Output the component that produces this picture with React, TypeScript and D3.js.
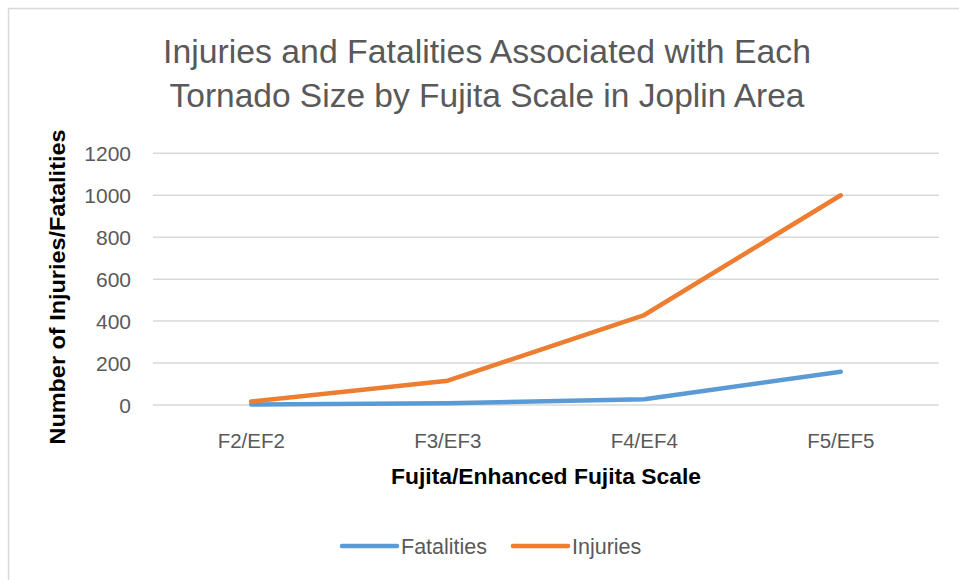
import React from "react";
import * as d3 from "d3";

const categories = ["F2/EF2", "F3/EF3", "F4/EF4", "F5/EF5"];
const fatalities = [2, 8, 27, 159];
const injuries = [17, 116, 429, 1000];
const yTicks = [0, 200, 400, 600, 800, 1000, 1200];
const seriesNames = ["Fatalities", "Injuries"];
const seriesColors = ["#5b9bd5", "#ed7d31"];

const W = 959;
const H = 580;
const FONT = "'Liberation Sans', Arial, sans-serif";

export default function App() {
  const x = d3.scaleBand<string>().domain(categories).range([153, 939]);
  const y = d3.scaleLinear().domain([0, 1200]).range([405, 153.3]);
  const line = d3
    .line<number>()
    .x((_, i) => (x(categories[i]) as number) + x.bandwidth() / 2)
    .y((d) => y(d));
  const series = [fatalities, injuries];

  return (
    <svg width={W} height={H} style={{ position: "absolute", left: 0, top: 0 }}>
      <rect x={0} y={0} width={W} height={H} fill="#fff" />
      <rect x={8.5} y={8.5} width={W + 10} height={H + 10} fill="#fff" stroke="#d9d9d9" strokeWidth={1.5} />
      <text x={487} y={63} textAnchor="middle" fontFamily={FONT} fontSize={33.5} fill="#595959" textLength={648} lengthAdjust="spacingAndGlyphs">
        Injuries and Fatalities Associated with Each
      </text>
      <text x={487} y={107} textAnchor="middle" fontFamily={FONT} fontSize={33.5} fill="#595959" textLength={635} lengthAdjust="spacingAndGlyphs">
        Tornado Size by Fujita Scale in Joplin Area
      </text>
      {yTicks.map((t) => (
        <g key={t}>
          <line x1={153} x2={939} y1={y(t)} y2={y(t)} stroke="#d9d9d9" strokeWidth={1.5} />
          <text x={131} y={y(t) + 7.5} textAnchor="end" fontFamily={FONT} fontSize={21} fill="#595959">
            {t}
          </text>
        </g>
      ))}
      {categories.map((c) => (
        <text key={c} x={(x(c) as number) + x.bandwidth() / 2} y={448} textAnchor="middle" fontFamily={FONT} fontSize={20.5} fill="#595959">
          {c}
        </text>
      ))}
      {series.map((s, i) => (
        <path key={i} d={line(s) as string} fill="none" stroke={seriesColors[i]} strokeWidth={4.5} strokeLinecap="round" strokeLinejoin="round" />
      ))}
      <text x={546} y={484} textAnchor="middle" fontFamily={FONT} fontSize={22} fontWeight="bold" fill="#000" textLength={310} lengthAdjust="spacingAndGlyphs">
        Fujita/Enhanced Fujita Scale
      </text>
      <text transform="translate(65,287) rotate(-90)" textAnchor="middle" fontFamily={FONT} fontSize={22} fontWeight="bold" fill="#000" textLength={315} lengthAdjust="spacingAndGlyphs">
        Number of Injuries/Fatalities
      </text>
      {seriesNames.map((n, i) => {
        const lx = [342, 513][i];
        return (
          <g key={n}>
            <line x1={lx} x2={lx + 55} y1={546} y2={546} stroke={seriesColors[i]} strokeWidth={4.5} strokeLinecap="round" />
            <text x={lx + 59} y={553.5} fontFamily={FONT} fontSize={21.5} fill="#595959">
              {n}
            </text>
          </g>
        );
      })}
    </svg>
  );
}
